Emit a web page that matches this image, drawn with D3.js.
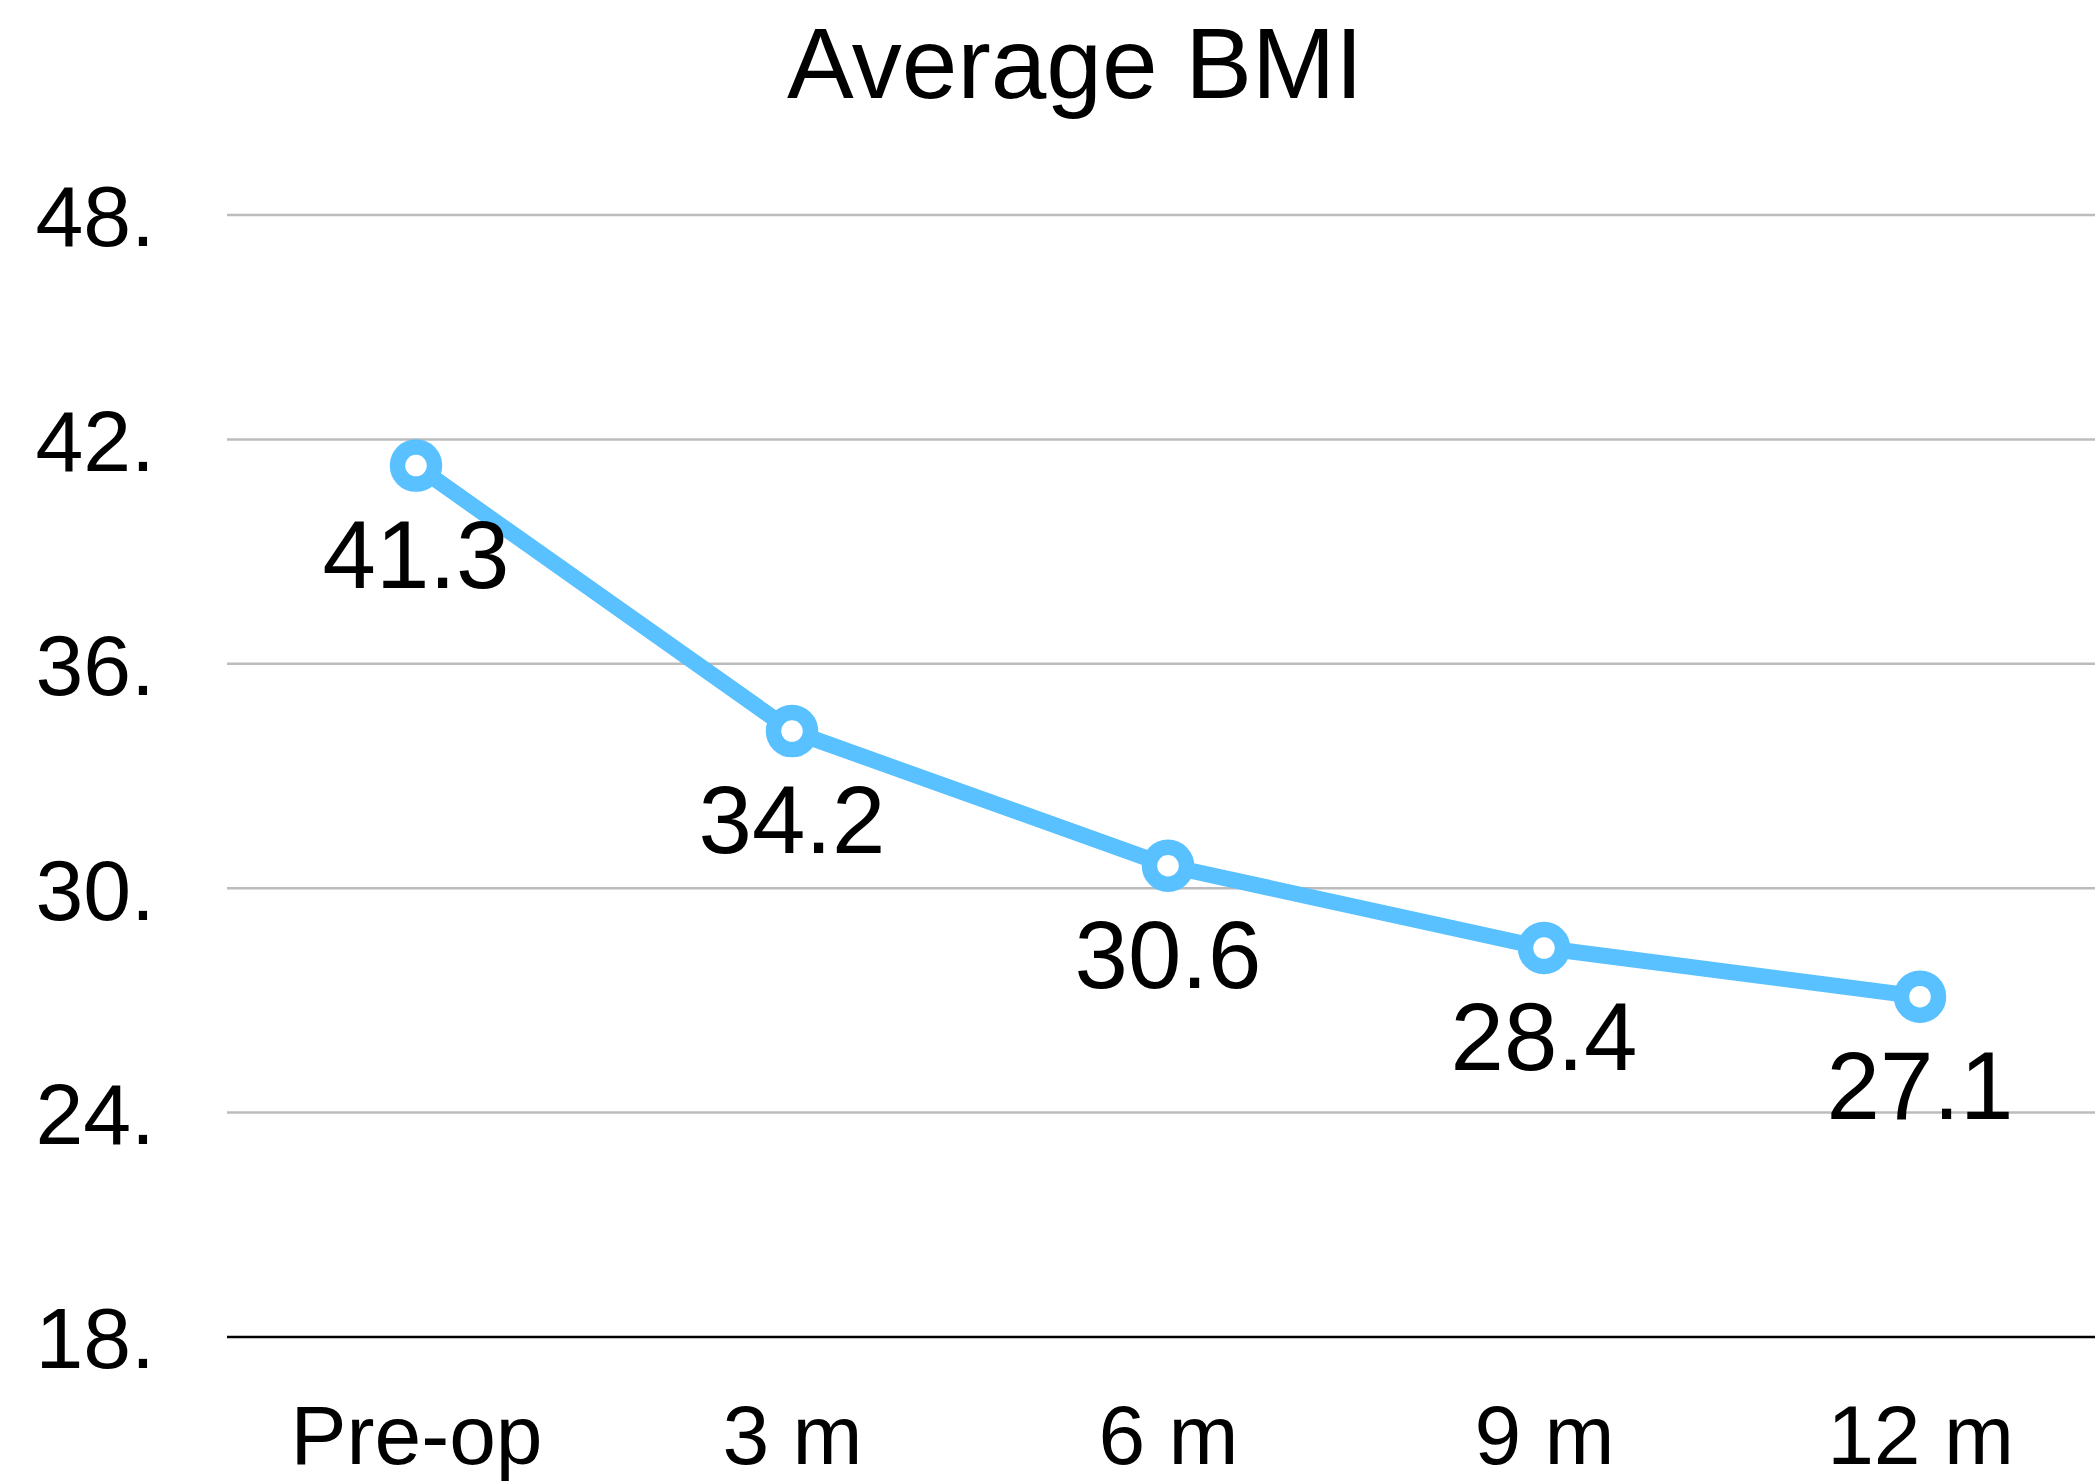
<!DOCTYPE html>
<html>
<head>
<meta charset="utf-8">
<script src="https://cdn.jsdelivr.net/npm/d3@7"></script>
<style>
  html, body { margin: 0; padding: 0; background: #ffffff; }
  svg { display: block; font-family: "Liberation Sans", Arial, sans-serif; }
</style>
</head>
<body>
<script>
const categories = ["Pre-op", "3 m", "6 m", "9 m", "12 m"];
const bmiValues = [41.3, 34.2, 30.6, 28.4, 27.1];
const yTicks = [18, 24, 30, 36, 42, 48];
const yTickLabels = ["18.", "24.", "30.", "36.", "42.", "48."];
const chartTitle = "Average BMI";

const W = 2095, H = 1483;
const plotLeft = 227, plotRight = 2095;

const svg = d3.select("body").append("svg")
  .attr("width", W).attr("height", H);

const x = d3.scalePoint().domain(categories).range([416, 1920]);
const y = d3.scaleLinear().domain([18, 48]).range([1337, 215]);

// title
svg.append("text")
  .attr("x", 1075).attr("y", 98)
  .attr("text-anchor", "middle")
  .attr("font-size", 100)
  .attr("fill", "#000")
  .text(chartTitle);

// gridlines
const gridTicks = yTicks.filter(d => d !== 18);
svg.append("g").selectAll("line").data(gridTicks).join("line")
  .attr("x1", plotLeft).attr("x2", plotRight)
  .attr("y1", d => y(d)).attr("y2", d => y(d))
  .attr("stroke", "#bcbcbc").attr("stroke-width", 2.5);

// baseline
svg.append("line")
  .attr("x1", plotLeft).attr("x2", plotRight)
  .attr("y1", y(18)).attr("y2", y(18))
  .attr("stroke", "#000").attr("stroke-width", 2.5);

// y axis labels
const yAxis = d3.axisLeft(y).tickValues(yTicks)
  .tickFormat(d => yTickLabels[yTicks.indexOf(d)])
  .tickSize(0).tickPadding(0);
const gy = svg.append("g").attr("transform", "translate(155,0)").call(yAxis);
gy.select(".domain").remove();
gy.selectAll("text")
  .attr("font-size", 86)
  .attr("font-family", "Liberation Sans, Arial, sans-serif")
  .attr("fill", "#000")
  .attr("dy", "0.36em");

// x axis labels
const xAxis = d3.axisBottom(x).tickSize(0).tickPadding(0);
const gx = svg.append("g").attr("transform", "translate(0,1464)").call(xAxis);
gx.select(".domain").remove();
gx.selectAll("text")
  .attr("font-size", 84)
  .attr("font-family", "Liberation Sans, Arial, sans-serif")
  .attr("fill", "#000")
  .attr("dy", 0)
  .attr("y", 0);

const data = categories.map((c, i) => ({ c, v: bmiValues[i] }));

// line
const lineGen = d3.line().x(d => x(d.c)).y(d => y(d.v));
svg.append("path")
  .datum(data)
  .attr("d", lineGen)
  .attr("fill", "none")
  .attr("stroke", "#59c1ff")
  .attr("stroke-width", 16)
  .attr("stroke-linejoin", "round");

// markers
svg.append("g").selectAll("circle").data(data).join("circle")
  .attr("cx", d => x(d.c)).attr("cy", d => y(d.v))
  .attr("r", 18.5)
  .attr("fill", "#ffffff")
  .attr("stroke", "#59c1ff")
  .attr("stroke-width", 15.5);

// data labels
svg.append("g").selectAll("text").data(data).join("text")
  .attr("x", d => x(d.c))
  .attr("y", d => y(d.v) + 122)
  .attr("text-anchor", "middle")
  .attr("font-size", 96)
  .attr("fill", "#000")
  .text(d => d.v.toFixed(1));
</script>
</body>
</html>
